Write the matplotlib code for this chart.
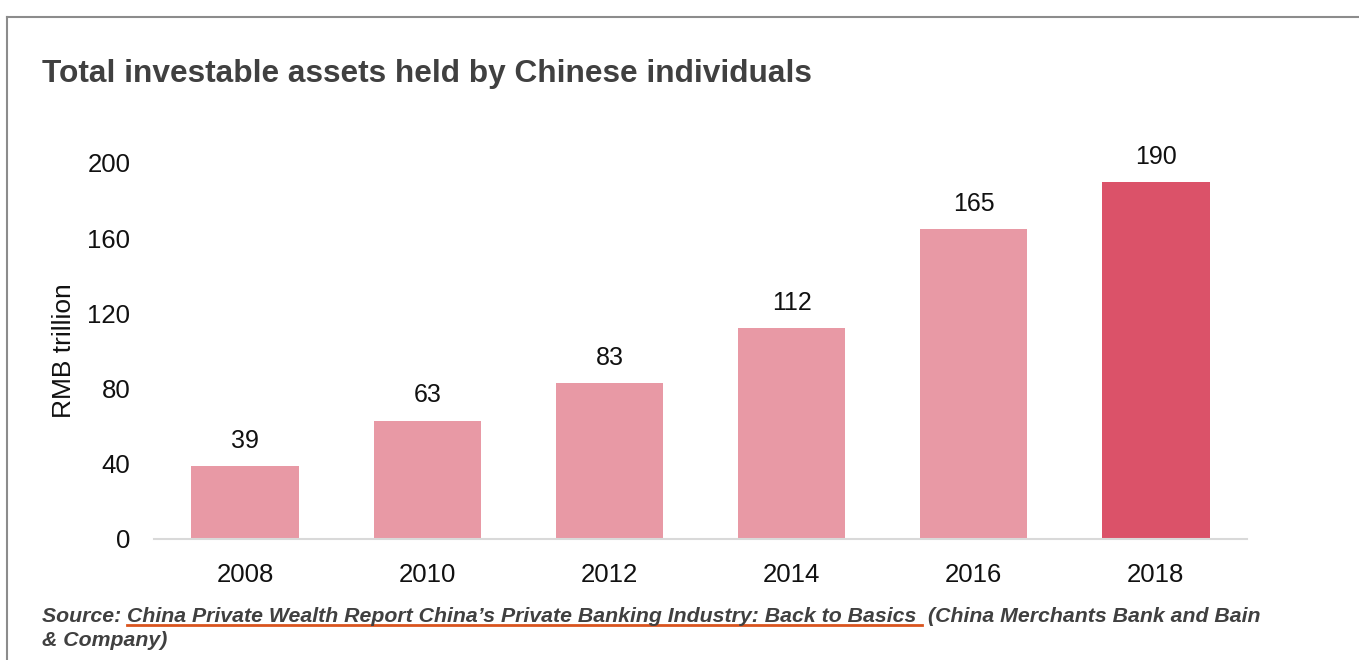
import matplotlib
matplotlib.use('Agg')
import matplotlib.pyplot as plt
from matplotlib.lines import Line2D

years = ['2008', '2010', '2012', '2014', '2016', '2018']
assets = [39, 63, 83, 112, 165, 190]
yticks = [0, 40, 80, 120, 160, 200]

plt.rcParams['font.family'] = ['Liberation Sans', 'DejaVu Sans']

W, H = 1359, 660
fig = plt.figure(figsize=(W / 100, H / 100), dpi=100)
ax = fig.add_axes([154 / W, 1 - 539 / H, (1247 - 154) / W, 376 / H])

colors = ['#E899A5'] * (len(years) - 1) + ['#DB5269']
xs = range(len(years))
ax.bar(xs, assets, width=0.59, color=colors)
for x, v in zip(xs, assets):
    ax.text(x, v + 7, str(v), ha='center', va='bottom', fontsize=18, color='#111111')

ax.set_xlim(-0.5, 5.5)
ax.set_ylim(0, 200)
ax.set_yticks(yticks)
ax.set_xticks(list(xs))
ax.set_xticklabels(years)
ax.tick_params(axis='both', length=0, labelsize=18.5, colors='#111111')
ax.tick_params(axis='y', pad=17)
ax.tick_params(axis='x', pad=17)
for s in ['top', 'right', 'left']:
    ax.spines[s].set_visible(False)
ax.spines['bottom'].set_color('#D9D9D9')
ax.spines['bottom'].set_linewidth(1.5)
ax.set_ylabel('RMB trillion', fontsize=19, color='#111111', labelpad=8)

# frame
fig.add_artist(Line2D([7 / W, 7 / W], [0, 1 - 17 / H], color='#8C8C8C', lw=1.5))
fig.add_artist(Line2D([7 / W, 1], [1 - 17 / H, 1 - 17 / H], color='#8C8C8C', lw=1.5))

fig.text(42 / W, 1 - 74 / H, 'Total investable assets held by Chinese individuals',
         fontsize=22.8, fontweight='bold', color='#404040', va='center')

# source line with underlined report title
src_kw = dict(fontsize=15.3, fontstyle='italic', fontweight='bold', color='#404040')
fig.canvas.draw()
r = fig.canvas.get_renderer()
y1 = 1 - 622 / H
t1 = fig.text(42 / W, y1, 'Source: ', **src_kw)
x = t1.get_window_extent(r).x1
t2 = fig.text(x / W, y1, 'China Private Wealth Report China\u2019s Private Banking Industry: Back to Basics ', **src_kw)
bb = t2.get_window_extent(r)
fig.add_artist(Line2D([bb.x0 / W, bb.x1 / W], [1 - 625 / H, 1 - 625 / H], color='#D9541E', lw=2))
fig.text(bb.x1 / W + 6 / W, y1, '(China Merchants Bank and Bain', **src_kw)
fig.text(42 / W, 1 - 646 / H, '& Company)', **src_kw)

plt.savefig('out.png', dpi=100)
